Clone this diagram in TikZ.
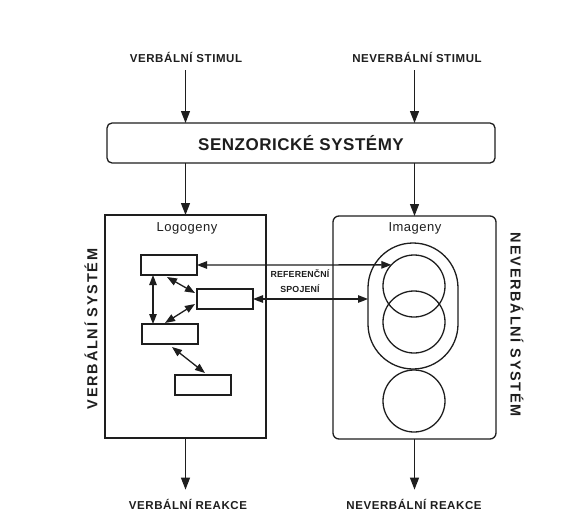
\documentclass[tikz,border=0pt]{standalone}
\usepackage{fontspec}
\setmainfont{Liberation Sans}
\usetikzlibrary{arrows.meta,calc}
\definecolor{ink}{RGB}{30,30,30}
\begin{document}
\begin{tikzpicture}[x=1pt,y=-1pt,
  every node/.style={text=ink},
  lbl/.style={font=\bfseries\fontsize{11.5}{13}\selectfont\addfontfeature{LetterSpace=5}, inner sep=0pt, anchor=base},
  side/.style={font=\bfseries\fontsize{14.5}{16}\selectfont\addfontfeature{LetterSpace=12}, inner sep=0pt},
  reflbl/.style={font=\bfseries\fontsize{8.8}{10}\selectfont\addfontfeature{LetterSpace=2}, inner sep=0pt},
  title/.style={font=\fontsize{13}{15}\selectfont\addfontfeature{LetterSpace=4}, inner sep=0pt},
  bigbox/.style={draw=ink, line width=1.3pt, inner sep=0pt, outer sep=0pt},
  smallbox/.style={draw=ink, line width=1.3pt, minimum width=56pt, minimum height=20pt, inner sep=0pt, outer sep=0pt},
  circ/.style={draw=ink, line width=1.3pt, circle, minimum size=62pt, inner sep=0pt, outer sep=0pt},
  arr/.style={draw=ink, line width=1.3pt, -{Triangle[length=12pt,width=9pt]}},
  darr/.style={draw=ink, line width=1.3pt, {Triangle[length=10pt,width=7.5pt]}-{Triangle[length=10pt,width=7.5pt]}}
]
\useasboundingbox[fill=white] (0,0) rectangle (586,530);

% top labels
\node[lbl] (stim1) at (186,62) {VERBÁLNÍ STIMUL};
\node[lbl] (stim2) at (417,62) {NEVERBÁLNÍ STIMUL};

% sensory box
\node[bigbox, rounded corners=5pt, minimum width=388pt, minimum height=40pt,
  font=\bfseries\fontsize{17}{19}\selectfont\addfontfeature{LetterSpace=3}] (senz) at (301,143) {SENZORICKÉ SYSTÉMY};

% system boxes
\node[bigbox, minimum width=161pt, minimum height=223pt] (lbox) at (185.5,326.5) {};
\node[bigbox, rounded corners=6pt, minimum width=163pt, minimum height=223pt] (rbox) at (414.5,327.5) {};

\node[title] (logo) at (187,228) {Logogeny};
\node[title] (imag) at (415,228) {Imageny};

% side labels
\node[side, rotate=90] (sideL) at (91,329) {VERBÁLNÍ SYSTÉM};
\node[side, rotate=-90] (sideR) at (517,325) {NEVERBÁLNÍ SYSTÉM};

% logogens
\node[smallbox] (R1) at (169,265) {};
\node[smallbox] (R2) at (225,299) {};
\node[smallbox] (R3) at (170,334) {};
\node[smallbox] (R4) at (203,385) {};

% imagens
\node[draw=ink, line width=1.3pt, rectangle, rounded corners=45pt, minimum width=90pt, minimum height=126pt, inner sep=0pt, outer sep=0pt] (stad) at (413,306) {};
\node[circ] (c1) at (414,286) {};
\node[circ] (c2) at (414,322) {};
\node[circ] (c3) at (414,401) {};

% referential label
\node[reflbl] (ref1) at (300,274) {REFERENČNÍ};
\node[reflbl] (ref2) at (300,289) {SPOJENÍ};

% bottom labels
\node[lbl] (reak1) at (188,509) {VERBÁLNÍ REAKCE};
\node[lbl] (reak2) at (414,509) {NEVERBÁLNÍ REAKCE};

% vertical arrows
\draw[arr, shorten <=8pt] (stim1.south -| lbox.north) -- (senz.north -| lbox.north);
\draw[arr, shorten <=8pt] (stim2.south -| rbox.north) -- (senz.north -| rbox.north);
\draw[arr] (senz.south -| lbox.north) -- (lbox.north);
\draw[arr] (senz.south -| rbox.north) -- (rbox.north);
\draw[arr, shorten >=9pt] (lbox.south) -- (reak1.north -| lbox.south);
\draw[arr, shorten >=9pt] (rbox.south) -- (reak2.north -| rbox.south);

% referential connections
\draw[darr] (R1.east) -- (c1.137.4);
\draw[darr] (R2.east) -- (R2.east -| stad.west);

% associative connections
\draw[darr] ($(R1.south)+(-16,0)$) -- ($(R3.north)+(-17,0)$);
\draw[darr] ($(R1.south)+(-2,2)$) -- ($(R2.west)+(-2,-6)$);
\draw[darr] ($(R2.west)+(-2,5)$) -- ($(R3.north)+(-5,-1)$);
\draw[darr] ($(R3.south)+(2,3)$) -- ($(R4.north)+(2,-2)$);
\end{tikzpicture}
\end{document}
